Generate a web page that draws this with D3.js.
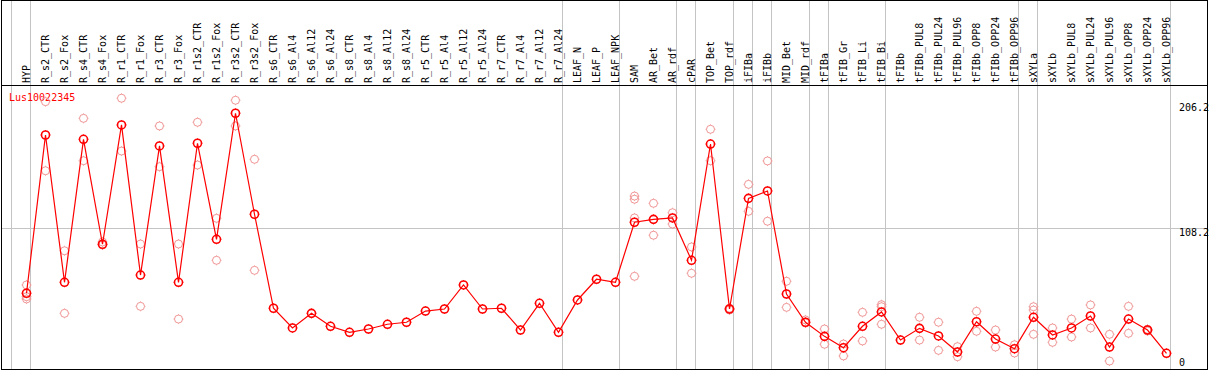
<!DOCTYPE html>
<html>
<head>
<meta charset="utf-8">
<script src="https://cdn.jsdelivr.net/npm/d3@7"></script>
<style>
  body { margin: 0; background: #fff; }
  svg text { font-family: "DejaVu Sans Mono", monospace; font-size: 10px; }
</style>
</head>
<body>
<svg id="chart" width="1209" height="370"></svg>
<script>
// categories along the top
var categories = ["HYP","R_s2_CTR","R_s2_Fox","R_s4_CTR","R_s4_Fox","R_r1_CTR","R_r1_Fox","R_r3_CTR","R_r3_Fox",
  "R_r1s2_CTR","R_r1s2_Fox","R_r3s2_CTR","R_r3s2_Fox","R_s6_CTR","R_s6_Al4","R_s6_Al12","R_s6_Al24",
  "R_s8_CTR","R_s8_Al4","R_s8_Al12","R_s8_Al24","R_r5_CTR","R_r5_Al4","R_r5_Al12","R_r5_Al24",
  "R_r7_CTR","R_r7_Al4","R_r7_Al12","R_r7_Al24","LEAF_N","LEAF_P","LEAF_NPK","SAM","AR_Bet","AR_rdf",
  "cPAR","TOP_Bet","TOP_rdf","iFIBa","iFIBb","MID_Bet","MID_rdf","tFIBa","tFIB_Gr","tFIB_Li","tFIB_Bi",
  "tFIBb","tFIBb_PUL8","tFIBb_PUL24","tFIBb_PUL96","tFIBb_OPP8","tFIBb_OPP24","tFIBb_OPP96",
  "sXYLa","sXYLb","sXYLb_PUL8","sXYLb_PUL24","sXYLb_PUL96","sXYLb_OPP8","sXYLb_OPP24","sXYLb_OPP96"];

// mean expression per category (the red line)
var means = [57.2,181.6,65.8,178.2,95.7,189.5,71.5,173.0,65.8,175.1,99.6,198.7,119.3,45.4,29.9,41.4,31.2,
  26.5,29.1,32.8,34.4,43.2,44.8,63.7,44.8,45.4,28.3,49.3,26.5,51.9,68.2,65.8,113.0,115.3,116.4,
  83.1,174.5,44.8,131.8,137.6,56.6,34.4,23.3,14.4,31.2,42.5,20.4,29.6,23.6,11.0,34.8,21.2,13.6,
  38.3,24.4,29.9,39.3,14.9,36.9,28.3,10.0];

// replicate values per category (faint markers)
var replicates = [[63.7,54.5,52.7],[207.8,153.5],[90.6,41.4],[194.7,161.4],[97.5,95.1],[210.5,169.0],
  [95.9,46.9],[188.7,156.7],[95.9,36.9],[191.6,158.0],[116.1,83.1],[208.9,188.7],[162.5,75.2],
  [],[],[],[],[],[],[],[],[],[],[],[],[],[],[],[],[],[],[],
  [133.6,131.1,116.4,70.5],[127.9,102.8],[120.5,111.6],[93.6,72.9],[186.1,161.4],[44.0,45.5],
  [142.8,121.6],[161.2,113.8],[66.6,46.1],[36.2,33.8],[29.1,17.1],[17.3,7.9],[42.2,19.7],
  [48.2,46.6,32.8],[],[38.3,20.4],[34.4,12.3],[15.2,7.3],[43.0,27.3],[28.3,14.9],[16.7,10.2],
  [46.6,44.0,24.9],[29.9,18.6],[36.9,22.8],[48.0,29.9],[24.9,3.9],[46.9,25.7],[28.9,27.5],[]];

// group separators (category index where a group starts, 61 = end)
var groupStarts = [0,1,29,32,35,36,38,39,40,42,43,46,53,54,61];
var axisTicks = [206.2, 108.2, 0];
var geneName = "Lus10022345";

var headerY = 85.5, bottomY = 369.5, leftX = 1.5, rightX = 1207.5;
var svg = d3.select("#chart");

var x = d3.scaleBand().domain(d3.range(categories.length)).range([11, 11 + 19 * categories.length]);
var px = function(i){ return x(i) + 15.5; };
var y = d3.scaleLinear().domain([0, 206.2]).range([366, 103.7]);

// grid
svg.selectAll(".vgrid").data(groupStarts).enter().append("line")
  .attr("x1", function(d){ return 11.5 + 19 * d; })
  .attr("x2", function(d){ return 11.5 + 19 * d; })
  .attr("y1", 0).attr("y2", bottomY)
  .style("stroke", "#c4c4c4").style("stroke-width", 1);

svg.append("line")
  .attr("x1", leftX).attr("x2", rightX)
  .attr("y1", Math.round(y(108.2)) + 0.5).attr("y2", Math.round(y(108.2)) + 0.5)
  .style("stroke", "#c4c4c4").style("stroke-width", 1);

// frame
svg.append("rect").attr("x", leftX).attr("y", 0.5)
  .attr("width", rightX - leftX).attr("height", bottomY - 0.5)
  .style("fill", "none").style("stroke", "#000").style("stroke-width", 1);
svg.append("line").attr("x1", leftX).attr("x2", rightX)
  .attr("y1", headerY).attr("y2", headerY)
  .style("stroke", "#000").style("stroke-width", 1);

// category labels
svg.selectAll(".cat").data(categories).enter().append("text")
  .attr("transform", function(d, i){ return "translate(" + (px(i) + 3.5) + ",83) rotate(-90)"; })
  .style("fill", "#000")
  .text(function(d){ return d; });

// right axis labels
svg.selectAll(".tick").data(axisTicks).enter().append("text")
  .attr("x", 1179)
  .attr("y", function(d){ return Math.min(y(d) + 7.5, 366); })
  .style("fill", "#000")
  .text(function(d){ return d; });

svg.append("text").attr("x", 9).attr("y", 101).style("fill", "#f00").text(geneName);

function marker(g, cx, cy, r, color, sw) {
  g.append("circle").attr("cx", cx).attr("cy", cy).attr("r", r)
    .style("fill", "none").style("stroke", color).style("stroke-width", sw);
  g.append("path")
    .attr("d", "M" + (cx - r - 1) + "," + cy + "h1M" + (cx + r) + "," + cy + "h1M" +
      cx + "," + (cy - r - 1) + "v1M" + cx + "," + (cy + r) + "v1")
    .style("stroke", color).style("stroke-width", 0.8);
}

// replicates
var rep = svg.append("g");
replicates.forEach(function(vals, i){
  vals.forEach(function(v){ marker(rep, px(i), y(v), 4, "#f09595", 1); });
});

// mean line
var line = d3.line().x(function(d, i){ return px(i); }).y(function(d){ return y(d); });
svg.append("path").datum(means).attr("d", line)
  .style("fill", "none").style("stroke", "#f00").style("stroke-width", 1.2);

var mk = svg.append("g");
means.forEach(function(v, i){ marker(mk, px(i), y(v), 4, "#f00", 1.6); });
</script>
</body>
</html>
